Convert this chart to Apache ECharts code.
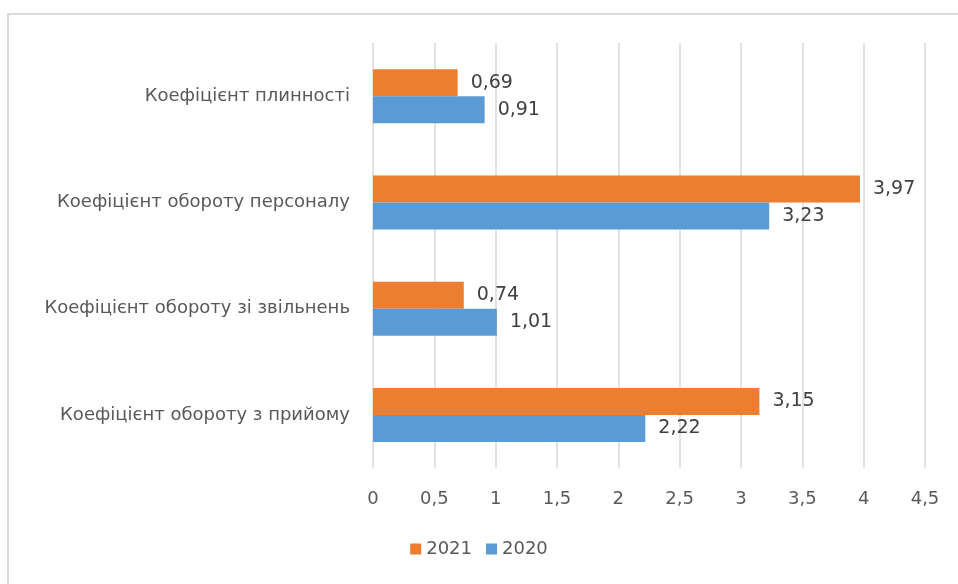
<!DOCTYPE html>
<html><head><meta charset="utf-8">
<script src="https://cdn.jsdelivr.net/npm/echarts@6/dist/echarts.min.js"></script>
<style>html,body{margin:0;padding:0;background:#fff}#c{width:958px;height:584px}</style>
</head><body><div id="c"></div>
<script>
const categories = ['Коефіцієнт плинності','Коефіцієнт обороту персоналу','Коефіцієнт обороту зі звільнень','Коефіцієнт обороту з прийому'];
const values2021 = [0.69, 3.97, 0.74, 3.15];
const values2020 = [0.91, 3.23, 1.01, 2.22];
const seriesNames = ['2021','2020'];
const fmt = v => String(v).replace('.', ',');
const FONT = 'DejaVu Sans';
const chart = echarts.init(document.getElementById('c'));
chart.setOption({
  animation:false,
  textStyle:{fontFamily:FONT},
  graphic:[{type:'rect',shape:{x:8,y:14,width:1000,height:700},style:{fill:'none',stroke:'#d9d9d9',lineWidth:2},silent:true,z:-1}],
  grid:{left:373,right:33,top:43,bottom:116},
  legend:{data:seriesNames,bottom:21,left:'center',itemWidth:11,itemHeight:11,itemGap:14,icon:'rect',
    textStyle:{fontFamily:FONT,fontSize:18,color:'#595959'}},
  xAxis:{type:'value',min:0,max:4.5,interval:0.5,
    axisLine:{show:false},axisTick:{show:false},
    splitLine:{lineStyle:{color:'#d9d9d9',width:1.5}},
    axisLabel:{margin:22,fontSize:18,color:'#595959',fontFamily:FONT,formatter:fmt}},
  yAxis:{type:'category',inverse:true,data:categories,
    axisLine:{show:false},axisTick:{show:false},
    axisLabel:{margin:23,fontSize:18,color:'#595959',fontFamily:FONT}},
  series:[
    {name:'2021',type:'bar',data:values2021,barWidth:27,barGap:'0%',itemStyle:{color:'#ED7D31'},
     label:{show:true,position:'right',distance:13,fontSize:19,color:'#404040',fontFamily:FONT,formatter:p=>fmt(p.value)}},
    {name:'2020',type:'bar',data:values2020,barWidth:27,barGap:'0%',itemStyle:{color:'#5B9BD5'},
     label:{show:true,position:'right',distance:13,fontSize:19,color:'#404040',fontFamily:FONT,formatter:p=>fmt(p.value)}}
  ]
});
</script></body></html>
